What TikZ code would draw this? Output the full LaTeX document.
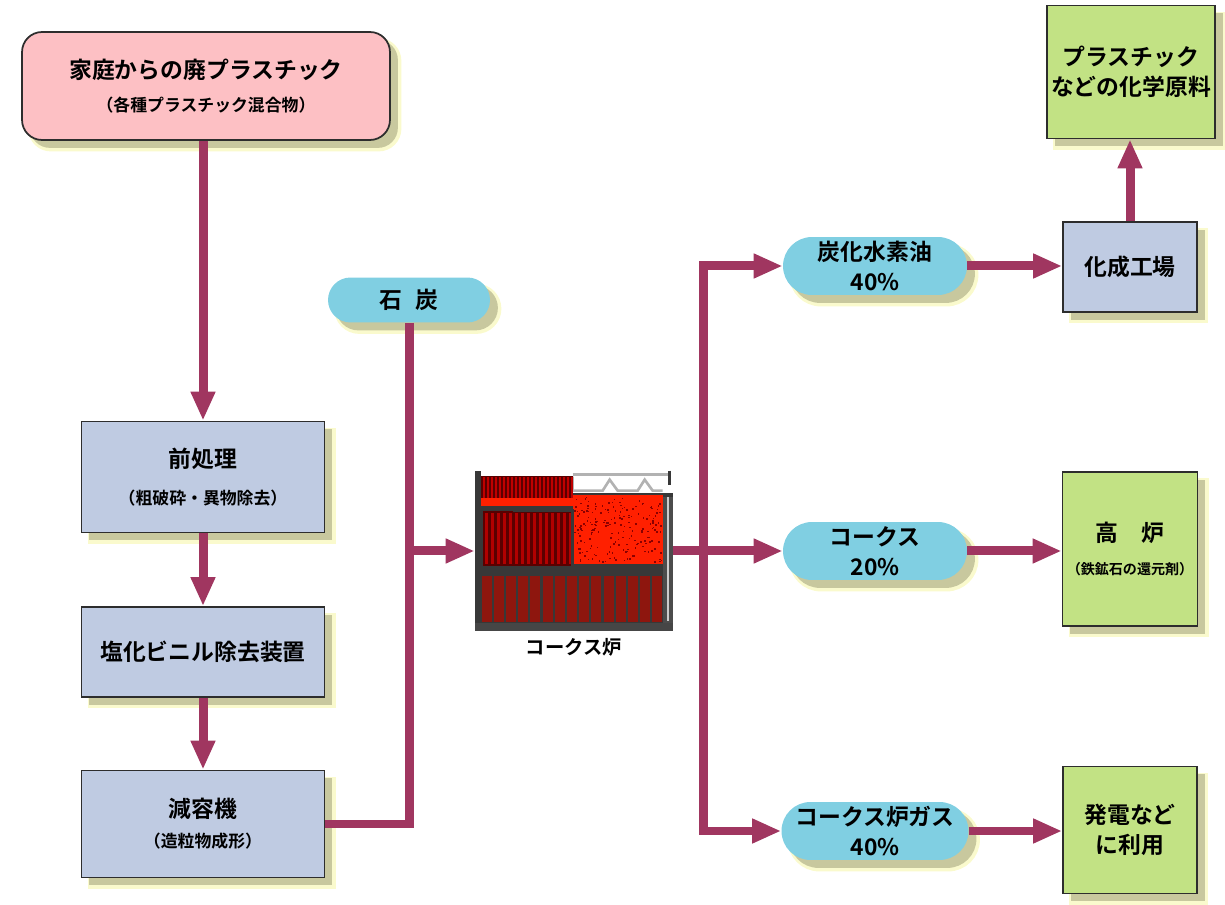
\documentclass[tikz,border=0pt]{standalone}
\usepackage{fontspec}
\setmainfont{Noto Sans CJK JP}[BoldFont={Noto Sans CJK JP Bold}]
\usetikzlibrary{positioning}
\usetikzlibrary{arrows.meta}
\usetikzlibrary{shapes.misc}
\usetikzlibrary{shadows}

\definecolor{flowred}{RGB}{160,54,96}
\definecolor{pinkbox}{RGB}{253,192,196}
\definecolor{greybox}{RGB}{191,203,226}
\definecolor{cyanpill}{RGB}{128,207,226}
\definecolor{greenbox}{RGB}{194,226,132}
\definecolor{shadekhaki}{RGB}{200,200,158}
\definecolor{shadeglow}{RGB}{250,250,205}
\definecolor{boxline}{RGB}{45,45,45}
\definecolor{ovengrey}{RGB}{56,56,56}
\definecolor{ovenred}{RGB}{255,32,0}
\definecolor{barred}{RGB}{142,22,14}
\definecolor{darkbar}{RGB}{90,0,0}

\newcommand{\smallnote}[1]{{\fontsize{9.6pt}{11pt}\selectfont #1}}

\tikzset{
	every node/.style={align=center,inner sep=0pt},
	boxshadow/.style={
		general shadow={shadow xshift=5pt,shadow yshift=-5pt,fill=shadeglow,draw=shadeglow,line width=3pt},
		general shadow={shadow xshift=4.5pt,shadow yshift=-4.5pt,fill=shadekhaki}},
	labelfont/.style={font=\fontsize{13pt}{17pt}\selectfont\bfseries},
	wastebox/.style={rectangle,rounded corners=0.4cm,draw=boxline,line width=1pt,fill=pinkbox,
		minimum width=7.36cm,minimum height=2.16cm,boxshadow,labelfont},
	stagebox/.style={rectangle,draw=boxline,line width=1pt,fill=greybox,minimum width=4.86cm,boxshadow,labelfont},
	pill/.style={rounded rectangle,fill=cyanpill,minimum width=3.68cm,minimum height=1.16cm,boxshadow,labelfont},
	productbox/.style={rectangle,draw=boxline,line width=1pt,fill=greenbox,boxshadow,labelfont},
	flow/.style={draw=flowred,line width=0.18cm},
	flowarrow/.style={flow,-{Triangle[length=0.58cm,width=0.46cm]}},
}

\begin{document}
\begin{tikzpicture}[x=0.02cm,y=-0.02cm]
	\useasboundingbox (0,0) rectangle (1225,905);

	%left column.....................
	\node[wastebox] (waste) at (206,86) {家庭からの廃プラスチック\\[2pt]\smallnote{（各種プラスチック混合物）}};
	\node[stagebox,minimum height=2.22cm] (pretreat) at (203,477) {前処理\\[4pt]\smallnote{（粗破砕・異物除去）}};
	\node[stagebox,minimum height=1.8cm] (pvc) at (203,652) {塩化ビニル除去装置};
	\node[stagebox,minimum height=2.14cm] (reducer) at (203,824) {減容機\\\smallnote{（造粒物成形）}};

	%coal and oven......................
	\node[pill,minimum width=3.24cm,minimum height=0.9cm] (coal) at (409,300) {石\hspace{0.6em}炭};
	\node[minimum width=3.96cm,minimum height=3.2cm] (oven) at (574,551) {};
	\node[below=0.14cm of oven,font=\fontsize{11pt}{13pt}\selectfont\bfseries] (ovenlabel) {コークス炉};

	%products...................
	\node[pill] (oil) at (875,266) {炭化水素油\\40\%};
	\node[pill] (coke) at (875,551) {コークス\\20\%};
	\node[pill] (gas) at (875,831) {コークス炉ガス\\40\%};

	\node[stagebox,minimum width=2.68cm,minimum height=1.8cm] (plant) at (1130,267) {化成工場};
	\node[productbox,minimum width=3.36cm,minimum height=2.66cm] (material) at (1131,72) {プラスチック\\などの化学原料};
	\node[productbox,minimum width=2.7cm,minimum height=3.08cm] (furnace) at (1130,549)
		{高\hspace{1em}炉\\[2pt]{\fontsize{8pt}{10pt}\selectfont （鉄鉱石の還元剤）}};
	\node[productbox,minimum width=2.68cm,minimum height=2.54cm] (power) at (1130,830) {発電など\\に利用};

	% coke oven drawing
	\begin{scope}[shift={(oven.north west)}]
		\fill[ovengrey] (0,22) rectangle (198,160);
		\fill[ovengrey] (0,0) rectangle (6,22);
		% charging cars on top
		\draw[gray!60,line width=1.5pt] (98,4) -- (194,4);
		\draw[gray!60,line width=1.5pt] (98,6) -- (98,20) -- (128,20) -- (135,9) -- (143,20) -- (163,20) -- (170,9) -- (178,20) -- (188,20);
		\draw[ovengrey,line width=1.5pt] (195,0) -- (195,14);
		% top battery
		\fill[darkbar] (6,5) rectangle (98,27);
		\foreach \x in {8,12,...,96}
			\fill[red!75!black] (\x,6) rectangle +(2,21);
		% glowing charge
		\fill[ovenred] (6,27) rectangle (98,35);
		\fill[ovenred] (98,24) rectangle (188,93);
		\pgfmathsetseed{42}
		\foreach \i in {1,...,200}{
			\pgfmathsetmacro{\sx}{99+87*rnd}
			\pgfmathsetmacro{\sy}{26+65*rnd}
			\fill[red!55!black] (\sx,\sy) rectangle +(1.5,1.5);
		}
		% middle ovens
		\fill[darkbar] (8,40) rectangle (98,95);
		\foreach \x in {10,16,...,94}
			\fill[red!70!black] (\x,42) rectangle +(3,51);
		\draw[ovengrey,line width=1.5pt] (6,37) -- (40,37) -- (40,40) -- (98,40) -- (98,95);
		% right wall
		\fill[gray!60!black] (188,26) rectangle (198,160);
		\fill[gray!40] (192,26) rectangle (194,150);
		% bottom flues
		\foreach \x in {0,...,14}
			\fill[barred] ({7+\x*12.2},105) rectangle +(10,46);
		\fill[gray!55!black] (0,152) rectangle (198,160);
	\end{scope}

	%arrows left......................
	\draw[flowarrow] (waste.south -| pretreat.north) -- (pretreat.north);
	\draw[flowarrow] (pretreat) -- (pvc);
	\draw[flowarrow] (pvc) -- (reducer);
	\draw[flow] (coal.south) -- (coal.south |- reducer.east) -- (reducer.east);
	\draw[flowarrow] (coal.south |- oven.west) -- (oven.west);

	%arrows right......................
	\coordinate (split) at (703,551);
	\draw[flow] (oven.east) -- (split);
	\draw[flowarrow] (split) |- (oil.west);
	\draw[flowarrow] (split) -- (coke.west);
	\draw[flowarrow] (split) |- (gas.west);
	\draw[flowarrow] (oil.east) -- (oil.east -| plant.west);
	\draw[flowarrow] (coke.east) -- (coke.east -| furnace.west);
	\draw[flowarrow] (gas.east) -- (gas.east -| power.west);
	\draw[flowarrow] (plant.north) -- (plant.north |- material.south);
\end{tikzpicture}
\end{document}
